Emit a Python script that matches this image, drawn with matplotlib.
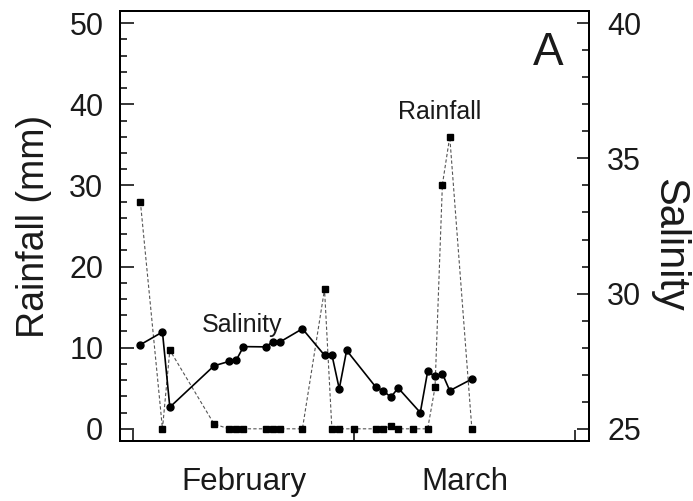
import matplotlib
matplotlib.use('Agg')
import matplotlib.pyplot as plt
from matplotlib.ticker import MultipleLocator

plt.rcParams['font.family'] = ['Liberation Sans', 'DejaVu Sans']

# Rainfall (mm), day counted from start of February
rain_day = [1, 4, 5, 11, 13, 14, 15, 18, 19, 20, 23, 26, 27, 28, 30,
            33, 34, 35, 36, 38, 40, 41, 42, 43, 46]
rainfall = [28.0, 0, 9.7, 0.6, 0, 0, 0, 0, 0, 0, 0, 17.2, 0, 0, 0,
            0, 0, 0.4, 0, 0, 0, 5.1, 30.1, 36.0, 0]

# Salinity
sal_day = [1, 4, 5, 11, 13, 14, 15, 18, 19, 20, 23, 26, 27, 28, 29,
           33, 34, 35, 36, 39, 40, 41, 42, 43, 46]
salinity = [28.11, 28.58, 25.80, 27.33, 27.49, 27.53, 28.04, 28.03, 28.22,
            28.22, 28.70, 27.72, 27.74, 26.48, 27.90, 26.53, 26.40, 26.17,
            26.51, 25.60, 27.12, 26.94, 27.04, 26.41, 26.84]

months = ['February', 'March']
month_pos = [15, 45]
month_edges = [0, 30, 60]

txt = '#1a1a1a'

fig = plt.figure(figsize=(6.93, 5.01), dpi=100)
ax = fig.add_axes([0.1732, 0.1198, 0.6767, 0.8582])
ax2 = ax.twinx()

ax.plot(rain_day, rainfall, ls=(0, (3, 2)), color='#555555', lw=0.8,
        marker='s', ms=4.5, mfc='k', mec='k', zorder=2)
ax2.plot(sal_day, salinity, '-o', color='k', lw=1.2, ms=5, zorder=3)

ax.set_xlim(-1.76, 61.9)
ax.set_ylim(-1.5, 51.5)
ax2.set_ylim(25 - 0.45, 40 + 0.45)

ax.set_xticks(month_edges, ['', '', ''])
ax.set_xticks(month_pos, months, minor=True)
ax.tick_params(axis='x', which='major', direction='in', length=8, width=1.1)
ax.tick_params(axis='x', which='minor', length=0, pad=19, labelsize=22.5,
               labelcolor=txt)

ax.set_yticks(range(0, 51, 10))
ax.yaxis.set_minor_locator(MultipleLocator(2))
ax.tick_params(axis='y', which='major', direction='in', length=10, width=1.1,
               pad=12, labelsize=22, labelcolor=txt)
ax.tick_params(axis='y', which='minor', direction='in', length=5, width=1.1)

ax2.set_yticks([25, 30, 35, 40])
ax2.yaxis.set_minor_locator(MultipleLocator(1))
ax2.tick_params(axis='y', which='major', direction='in', length=9, width=1.1,
                pad=13, labelsize=22, labelcolor=txt)
ax2.tick_params(axis='y', which='minor', direction='in', length=5, width=1.1)

for a in (ax, ax2):
    for s in a.spines.values():
        s.set_linewidth(1.4)

ax.set_ylabel('Rainfall (mm)', fontsize=27, color=txt)
ax.yaxis.set_label_coords(-0.145, 0.5)
ax2.set_ylabel('Salinity', fontsize=30, color=txt, rotation=270, va='bottom')
ax2.yaxis.set_label_coords(1.128, 0.456)

ax.text(0.9126, 0.8744, 'A', transform=ax.transAxes, fontsize=33,
        ha='center', va='baseline', color=txt)
ax.text(0.682, 0.7488, 'Rainfall', transform=ax.transAxes, fontsize=18,
        ha='center', va='baseline', color=txt)
ax.text(0.260, 0.2535, 'Salinity', transform=ax.transAxes, fontsize=18,
        ha='center', va='baseline', color=txt)

fig.savefig('out.png', dpi=100)
